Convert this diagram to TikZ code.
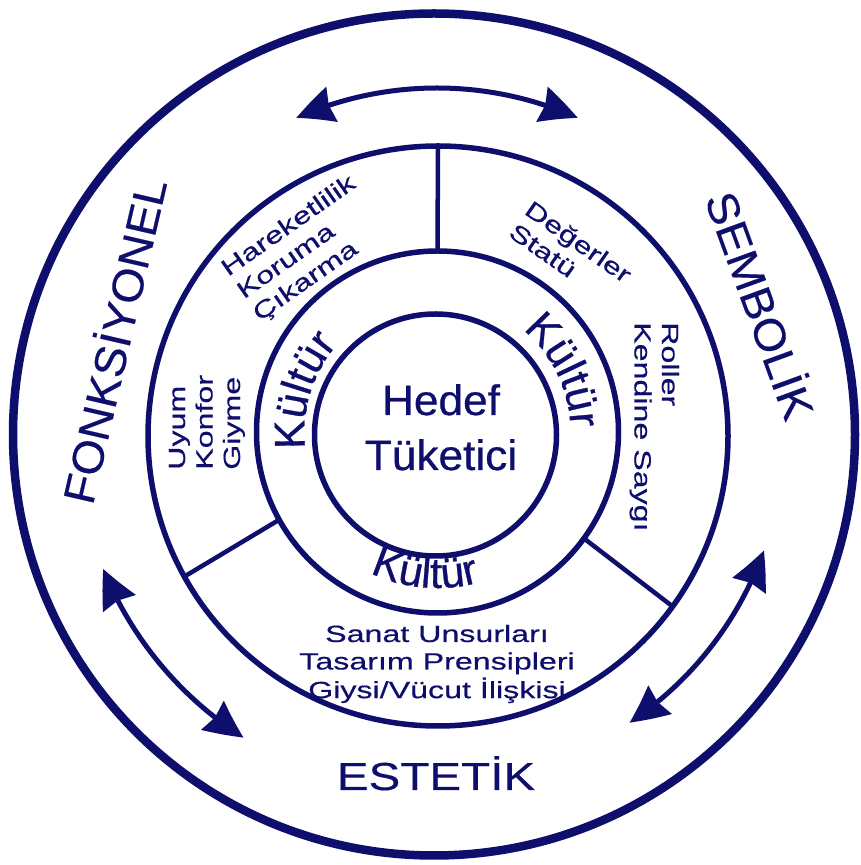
\documentclass[tikz,border=0pt]{standalone}
\usepackage{fontspec}
\setmainfont{Liberation Sans}
\usetikzlibrary{arrows.meta,bending,decorations.text}
\definecolor{navy}{RGB}{14,14,108}
\newfontfamily\smallfam[FakeStretch=1.37,FakeBold=0.4]{Liberation Sans}
\newfontfamily\estfam[FakeStretch=1.22,FakeBold=0.4]{Liberation Sans}
\newfontfamily\hedfam[FakeStretch=1.04,FakeBold=0.6]{Liberation Sans}
\newfontfamily\bigfam[FakeStretch=1.06,FakeBold=0.4]{Liberation Sans}
\newfontfamily\kultfam[FakeBold=0.7]{Liberation Sans}
\newcommand\kultf{\kultfam\fontsize{43}{50}\selectfont\color{navy}}
\begin{document}
\begin{tikzpicture}[x=1pt,y=1pt,line join=round,
  outerline/.style={draw=navy,line width=8.5pt},
  ringline/.style={draw=navy,line width=5.5pt},
  divider/.style={draw=navy,line width=4.5pt},
  dblarrow/.style={draw=navy,line width=5pt,
    {Stealth[length=38pt,width=36pt,inset=3pt,bend]}-{Stealth[length=38pt,width=36pt,inset=3pt,bend]}},
  smalltxt/.style={text=navy,inner sep=0pt,font=\smallfam\fontsize{23.5}{27.5}\selectfont},
  bigtxt/.style={text=navy,inner sep=0pt,font=\bigfam\fontsize{44}{50}\selectfont},
  hedtxt/.style={text=navy,inner sep=0pt,font=\hedfam\fontsize{42.5}{55}\selectfont},
  esttxt/.style={text=navy,inner sep=0pt,font=\estfam\fontsize{39}{44}\selectfont},
  kulttxt/.style={decorate,decoration={text along path,text={|\kultf|Kültür},text align=center}}
]
\useasboundingbox (0,0) rectangle (860,865);
\fill[white] (0,0) rectangle (860,865);

% centres
\coordinate (C)  at (437,431);
\coordinate (Co) at (434,430.5);
\coordinate (Cm) at (438,429);
\coordinate (Cr) at (437.5,433);
\coordinate (Ci) at (435.5,430);

% circles
\draw[outerline] (Co) circle[radius=421pt];
\draw[ringline] (Cm) circle[radius=290pt];
\draw[ringline] (Cr) circle[radius=181pt];
\draw[ringline] (Ci) circle[radius=121pt];

% dividers
\coordinate (d1a) at ([shift={(Cr)}]90:181pt);
\coordinate (d1b) at ([shift={(Cm)}]90:290pt);
\coordinate (d2a) at ([shift={(Cr)}]209:181pt);
\coordinate (d2b) at ([shift={(Cm)}]209:290pt);
\coordinate (d3a) at ([shift={(Cr)}]-36:181pt);
\coordinate (d3b) at ([shift={(Cm)}]-36:290pt);
\draw[divider] (d1a) -- (d1b);
\draw[divider] (d2a) -- (d2b);
\draw[divider] (d3a) -- (d3b);

% arrows
\coordinate (a1) at ([shift={(C)}]114:346pt);
\coordinate (a2) at ([shift={(C)}]202:360pt);
\coordinate (a3) at ([shift={(C)}]-19.6:347pt);
\draw[dblarrow] (a1) arc[start angle=114,end angle=66,radius=346pt];
\draw[dblarrow] (a2) arc[start angle=202,end angle=237.5,radius=360pt];
\draw[dblarrow] (a3) arc[start angle=-19.6,end angle=-56.3,radius=347pt];

% Kultur ring texts
\path[kulttxt] ([shift={(Cr)}]203:133pt) arc[start angle=203,end angle=123,radius=133pt];
\path[kulttxt] ([shift={(Cr)}]66:133pt) arc[start angle=66,end angle=-14,radius=133pt];
\path[kulttxt] ([shift={(Cr)}]225:156pt) arc[start angle=225,end angle=305,radius=156pt];

% centre text
\node[hedtxt,anchor=base] (hedef) at (441,450)
  {\begin{tabular}[t]{@{}c@{}}Hedef\\Tüketici\end{tabular}};

% sector texts
\node[smalltxt,anchor=base west,rotate=35] (hareket) at (228,588)
  {\begin{tabular}[t]{@{}l@{}}Hareketlilik\\Koruma\\Çıkarma\end{tabular}};
\node[smalltxt,anchor=base west,rotate=-35] (deger) at (523,652)
  {\begin{tabular}[t]{@{}l@{}}Değerler\\Statü\end{tabular}};
\node[smalltxt,anchor=base west,rotate=-90] (roller) at (662,543)
  {\begin{tabular}[t]{@{}l@{}}Roller\\Kendine Saygı\end{tabular}};
\node[smalltxt,anchor=base west,rotate=90] (uyum) at (185,395)
  {\begin{tabular}[t]{@{}l@{}}Uyum\\Konfor\\Giyme\end{tabular}};
\node[smalltxt,anchor=base] (sanat) at (437,223)
  {\begin{tabular}[t]{@{}c@{}}Sanat Unsurları\\Tasarım Prensipleri\\Giysi/Vücut İlişkisi\end{tabular}};

% outer ring labels
\node[bigtxt,anchor=base,rotate=77] (fonk) at (130,520.5) {FONKSİYONEL};
\node[bigtxt,anchor=base,rotate=-70] (semb) at (745,554) {SEMBOLİK};
\node[esttxt,anchor=base] (estetik) at (436,75) {ESTETİK};
\end{tikzpicture}
\end{document}
